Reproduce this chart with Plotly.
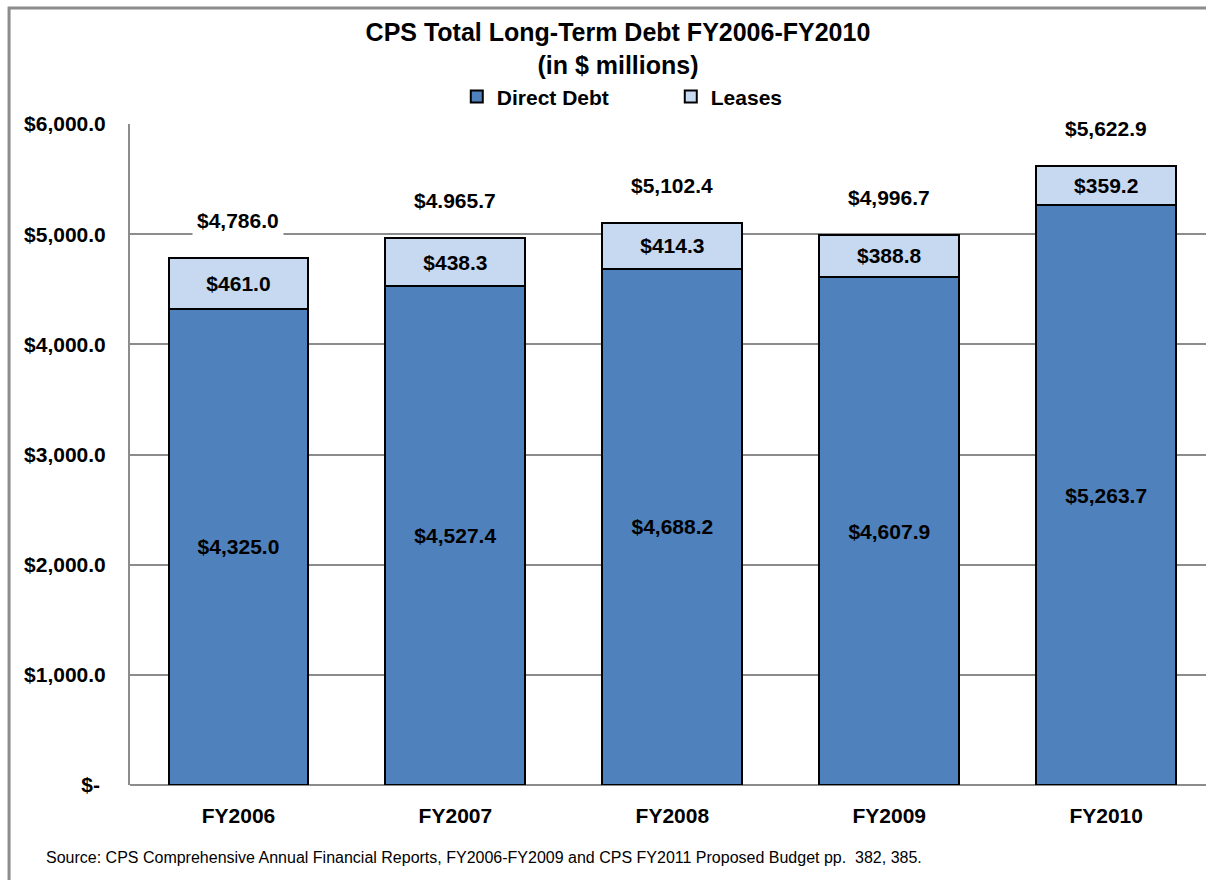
import plotly.graph_objects as go

# Data ($ millions)
years = ['FY2006', 'FY2007', 'FY2008', 'FY2009', 'FY2010']
direct_debt = [4325.0, 4527.4, 4688.2, 4607.9, 5263.7]
leases = [461.0, 438.3, 414.3, 388.8, 359.2]
totals = [4786.0, 4965.7, 5102.4, 4996.7, 5622.9]
total_labels = ['$4,786.0', '$4.965.7', '$5,102.4', '$4,996.7', '$5,622.9']
y_ticks = [0, 1000, 2000, 3000, 4000, 5000, 6000]
y_tick_labels = ['$-\u00a0', '$1,000.0', '$2,000.0', '$3,000.0', '$4,000.0', '$5,000.0', '$6,000.0']

font_family = 'Liberation Sans, Arial, sans-serif'
bold = dict(family=font_family, size=21, color='black', weight='bold')

fig = go.Figure()
fig.add_trace(go.Bar(
    x=years, y=direct_debt, name='Direct Debt',
    marker=dict(color='#4F81BD', line=dict(color='black', width=2)),
    texttemplate='$%{y:,.1f}', textposition='inside', insidetextanchor='middle',
    textangle=0, constraintext='none', textfont=bold, width=0.645
))
fig.add_trace(go.Bar(
    x=years, y=leases, name='Leases',
    marker=dict(color='#C6D9F1', line=dict(color='black', width=2)),
    texttemplate='$%{y:,.1f}', textposition='inside', insidetextanchor='middle',
    textangle=0, constraintext='none', textfont=bold, width=0.645
))

# total labels above each stack, white box hides the gridline
for yr, tot, lab in zip(years, totals, total_labels):
    fig.add_annotation(x=yr, y=tot, text=lab, showarrow=False, yshift=37,
                       font=bold, bgcolor='white', borderpad=4)

# source note
fig.add_annotation(
    text='Source: CPS Comprehensive Annual Financial Reports, FY2006-FY2009 and CPS FY2011 Proposed Budget pp.  382, 385.',
    xref='paper', yref='paper', x=-0.080, y=-0.110, xanchor='left', yanchor='middle',
    showarrow=False, font=dict(family=font_family, size=16, color='black')
)

# outer chart border (only left and top edges are in view)
fig.add_shape(type='path', xref='paper', yref='paper',
              path='M -0.1124,-0.3 L -0.1124,1.1755 L 1.2,1.1755',
              line=dict(color='#8c8c8c', width=3), layer='below')

fig.update_layout(
    width=1206, height=880,
    margin=dict(l=130, r=0, t=124, b=95),
    paper_bgcolor='white', plot_bgcolor='white',
    barmode='stack',
    title=dict(
        text='CPS Total Long-Term Debt FY2006-FY2010<br>(in $ millions)',
        xref='container', x=0.5124, xanchor='center', y=0.953, yanchor='middle',
        font=dict(family=font_family, size=25, color='black', weight='bold')
    ),
    legend=dict(
        orientation='h', xref='paper', yref='paper', x=0.3037, y=1.041,
        xanchor='left', yanchor='middle', font=bold, traceorder='normal',
        entrywidth=169, bgcolor='rgba(0,0,0,0)'
    ),
    xaxis=dict(
        range=[-0.5, 4.46], showgrid=False, showline=False, ticks='',
        tickfont=bold, ticklabelstandoff=16
    ),
    yaxis=dict(
        range=[0, 6000], tickvals=y_ticks, ticktext=y_tick_labels,
        showgrid=True, gridcolor='#8c8c8c', gridwidth=2,
        showline=True, linecolor='#8c8c8c', linewidth=2,
        zeroline=True, zerolinecolor='#8c8c8c', zerolinewidth=2,
        ticks='', tickfont=bold, ticklabelstandoff=18
    ),
)

# drop the browser's default page margin and scrollbars so the figure sits at 0,0
fig.write_html('out.html', config={'displayModeBar': False},
               post_script="document.body.style.margin='0px';"
                           "document.body.style.overflow='hidden';"
                           "document.documentElement.style.overflow='hidden';")
